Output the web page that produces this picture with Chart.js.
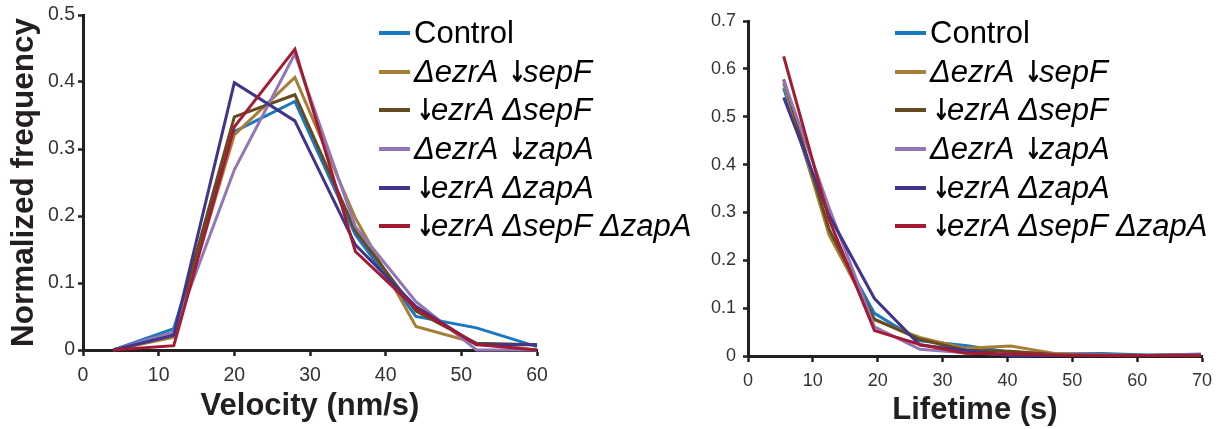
<!DOCTYPE html>
<html><head><meta charset="utf-8">
<script src="https://cdn.jsdelivr.net/npm/chart.js@4.4.0/dist/chart.umd.min.js"></script>
<style>
html,body{margin:0;padding:0;background:#fff;width:1222px;height:429px;overflow:hidden}
#wrap{position:relative;width:1222px;height:429px}
.cv{position:absolute;top:0}
.legend{position:absolute;top:0;font-family:"Liberation Sans",Arial,sans-serif;font-size:31px;color:#000}
.row{position:absolute;left:0;height:34px;line-height:34px;display:flex;align-items:center;white-space:nowrap}
.sw{width:31px;height:4px;margin-right:4px;flex:none}
.it{font-style:italic}
.ar{font-style:normal;font-weight:bold;font-family:"DejaVu Sans",sans-serif;font-size:30px;display:inline-block;transform:scaleX(0.72);width:16px;text-align:center;margin:0 1px 0 0;vertical-align:baseline}
</style></head><body>
<div id="wrap">
<canvas id="c1" class="cv" width="560" height="429" style="left:0px"></canvas>
<canvas id="c2" class="cv" width="532" height="429" style="left:690px"></canvas>
<div id="lg1" class="legend" style="left:379px"></div>
<div id="lg2" class="legend" style="left:895px"></div>
</div>
<script>
// ---- data ----
const seriesNames = ['Control', 'ΔezrA ↓sepF', '↓ezrA ΔsepF', 'ΔezrA ↓zapA', '↓ezrA ΔzapA', '↓ezrA ΔsepF ΔzapA'];
const seriesColors = ['#1878c0', '#a87e37', '#654a20', '#9277b7', '#40358a', '#a31a31'];

// Velocity panel
const velocityX = [4, 12, 20, 28, 36, 44, 52, 60];
const velControl   = [0, 0.032, 0.326, 0.371, 0.172, 0.050, 0.033, 0.005];
const velEzrASepF  = [0, 0.019, 0.321, 0.407, 0.197, 0.035, 0.010, 0];
const velSepFEzrA  = [0, 0.024, 0.348, 0.381, 0.178, 0.058, 0.010, 0.008];
const velEzrAZapA  = [0, 0.027, 0.269, 0.442, 0.184, 0.072, 0, 0];
const velZapAEzrA  = [0, 0.022, 0.399, 0.342, 0.157, 0.065, 0.008, 0.008];
const velTriple    = [0, 0.0065, 0.333, 0.449, 0.147, 0.062, 0.008, 0];
const velXTicks = ['0', '10', '20', '30', '40', '50', '60'];
const velYTicks = ['0', '0.1', '0.2', '0.3', '0.4', '0.5'];

// Lifetime panel
const lifetimeX = [5.5, 12.5, 19.5, 26.5, 33.5, 40.5, 47.5, 54.5, 61.5, 69.8];
const lifeControl  = [0.560, 0.262, 0.089, 0.032, 0.022, 0.008, 0.004, 0.005, 0.002, 0.003];
const lifeEzrASepF = [0.570, 0.253, 0.075, 0.039, 0.016, 0.021, 0.005, 0.002, 0.001, 0.002];
const lifeSepFEzrA = [0.578, 0.265, 0.077, 0.035, 0.012, 0.010, 0.003, 0.002, 0.001, 0.002];
const lifeEzrAZapA = [0.576, 0.310, 0.061, 0.014, 0.007, 0.003, 0.002, 0.002, 0.001, 0.004];
const lifeZapAEzrA = [0.540, 0.294, 0.120, 0.023, 0.012, 0.000, 0.001, 0.001, 0.001, 0.002];
const lifeTriple   = [0.626, 0.285, 0.053, 0.024, 0.006, 0.004, 0.002, 0.001, 0.001, 0.001];
const lifeXTicks = ['0', '10', '20', '30', '40', '50', '60', '70'];
const lifeYTicks = ['0', '0.1', '0.2', '0.3', '0.4', '0.5', '0.6', '0.7'];

// ---- helpers ----
const FONT = '"Liberation Sans", Arial, Helvetica, sans-serif';
const AXIS = '#231f20';

function datasets(xs, seriesList) {
  return seriesList.map((vals, i) => ({
    label: seriesNames[i],
    data: xs.map((x, j) => ({x: x, y: vals[j]})),
    borderColor: seriesColors[i],
    backgroundColor: seriesColors[i],
    borderWidth: 3,
    pointRadius: 0,
    fill: false,
    tension: 0,
    order: seriesList.length - i,
    clip: 4
  }));
}

function makeChart(id, cfg) {
  return new Chart(document.getElementById(id), {
    type: 'line',
    data: {datasets: datasets(cfg.xs, cfg.series)},
    options: {
      responsive: false,
      animation: false,
      devicePixelRatio: 1,
      layout: {padding: cfg.padding},
      plugins: {legend: {display: false}, tooltip: {enabled: false}},
      scales: {
        x: {
          type: 'linear', min: cfg.xMin, max: cfg.xMax,
          afterFit: s => { s.height = cfg.xHeight; },
          border: {color: AXIS, width: 3},
          grid: {display: true, drawOnChartArea: false, drawTicks: true, tickLength: 6, tickWidth: 2.5, tickColor: AXIS},
          ticks: {stepSize: cfg.xStep, padding: 8, maxRotation: 0, autoSkip: false, color: '#333',
                  font: {family: FONT, size: cfg.tickSize, lineHeight: 1.2},
                  callback: (v, i) => cfg.xTicks[i]},
          title: {display: true, text: cfg.xTitle, color: AXIS,
                  font: {family: FONT, size: 31, weight: 'bold', lineHeight: 1},
                  padding: {top: 0, bottom: cfg.xTitlePad}}
        },
        y: {
          min: 0, max: cfg.yMax,
          afterFit: s => { s.width = cfg.yWidth; },
          border: {color: AXIS, width: 3},
          grid: {display: true, drawOnChartArea: false, drawTicks: true, tickLength: 5, tickWidth: 2.5, tickColor: AXIS},
          ticks: {stepSize: 0.1, padding: cfg.yPad, color: '#333',
                  font: {family: FONT, size: cfg.tickSize},
                  callback: (v, i) => cfg.yTicks[i]},
          title: {display: !!cfg.yTitle, text: cfg.yTitle || '', color: AXIS,
                  font: {family: FONT, size: 31.5, weight: 'bold', lineHeight: 1},
                  padding: {top: 9, bottom: 0}}
        }
      }
    }
  });
}

makeChart('c1', {
  xs: velocityX,
  series: [velControl, velEzrASepF, velSepFEzrA, velEzrAZapA, velZapAEzrA, velTriple],
  padding: {left: 0, top: 15, right: 23, bottom: 0},
  xMin: 0, xMax: 60, xStep: 10, yMax: 0.5,
  xHeight: 79, yWidth: 83, yPad: 3, tickSize: 19.5,
  xTicks: velXTicks, yTicks: velYTicks,
  xTitle: 'Velocity (nm/s)', xTitlePad: 7,
  yTitle: 'Normalized frequency'
});

makeChart('c2', {
  xs: lifetimeX,
  series: [lifeControl, lifeEzrASepF, lifeSepFEzrA, lifeEzrAZapA, lifeZapAEzrA, lifeTriple],
  padding: {left: 0, top: 21, right: 20, bottom: 0},
  xMin: 0, xMax: 70, xStep: 10, yMax: 0.7,
  xHeight: 73, yWidth: 58, yPad: 7, tickSize: 18,
  xTicks: lifeXTicks, yTicks: lifeYTicks,
  xTitle: 'Lifetime (s)', xTitlePad: 3,
  yTitle: ''
});

// ---- legends (HTML text, mixed italic) ----
const rowCenters = [32.7, 71.7, 110, 149, 187.7, 226];
function labelHTML(name, i) {
  if (i === 0) return '<span>' + name + '</span>';
  return '<span class="it">' + name.split('↓').join('<span class="ar">↓</span>') + '</span>';
}
function buildLegend(elId) {
  const el = document.getElementById(elId);
  seriesNames.forEach((name, i) => {
    const row = document.createElement('div');
    row.className = 'row';
    row.style.top = (rowCenters[i] - 17) + 'px';
    row.innerHTML = '<div class="sw" style="background:' + seriesColors[i] + '"></div>' + labelHTML(name, i);
    el.appendChild(row);
  });
}
buildLegend('lg1');
buildLegend('lg2');
</script>
</body></html>
